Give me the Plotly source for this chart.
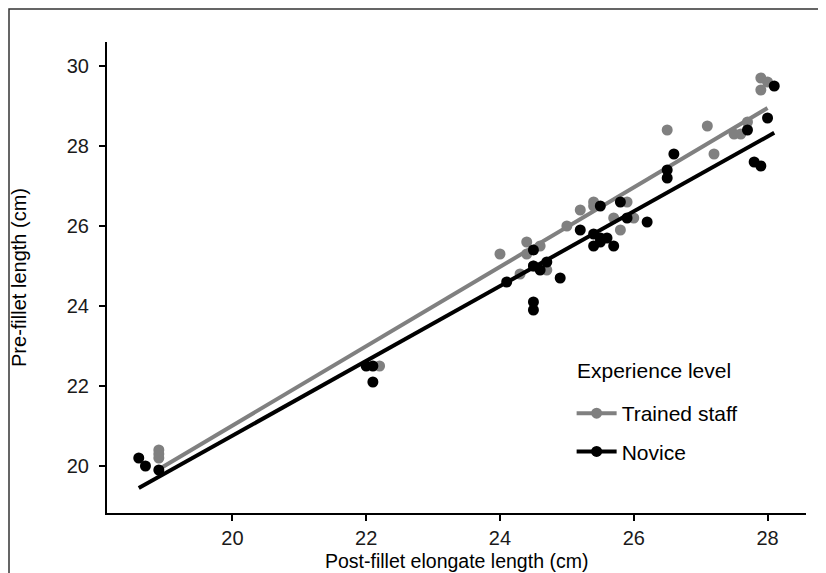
import numpy as np
import plotly.graph_objects as go

# Trained staff (grey)
trained_x = [18.9, 18.9, 18.9, 22.2, 24.0, 24.4, 24.4, 24.6, 24.3, 24.7, 24.5,
             25.0, 25.2, 25.4, 25.4, 25.7, 25.8, 25.9, 26.0, 26.5, 27.1, 27.2,
             27.5, 27.6, 27.7, 27.9, 28.0, 27.9]
trained_y = [20.4, 20.3, 20.2, 22.5, 25.3, 25.6, 25.3, 25.5, 24.8, 24.9, 25.0,
             26.0, 26.4, 26.6, 26.5, 26.2, 25.9, 26.6, 26.2, 28.4, 28.5, 27.8,
             28.3, 28.3, 28.6, 29.7, 29.6, 29.4]

# Novice (black)
novice_x = [18.6, 18.7, 18.9, 22.0, 22.1, 22.1, 24.1, 24.5, 24.5, 24.6, 24.7,
            24.9, 24.5, 24.5, 25.2, 25.4, 25.4, 25.5, 25.5, 25.6, 25.7, 25.8,
            25.9, 26.2, 25.5, 26.5, 26.5, 26.6, 27.7, 27.8, 27.9, 28.0, 28.1]
novice_y = [20.2, 20.0, 19.9, 22.5, 22.5, 22.1, 24.6, 25.4, 25.0, 24.9, 25.1,
            24.7, 24.1, 23.9, 25.9, 25.8, 25.5, 26.5, 25.7, 25.7, 25.5, 26.6,
            26.2, 26.1, 25.6, 27.4, 27.2, 27.8, 28.4, 27.6, 27.5, 28.7, 29.5]

group_names = ["Trained staff", "Novice"]
group_colors = ["#808080", "#000000"]

x_ticks = [20, 22, 24, 26, 28]
y_ticks = [20, 22, 24, 26, 28, 30]

fig = go.Figure()

groups = [(trained_x, trained_y), (novice_x, novice_y)]
for (gx, gy), name, col in zip(groups, group_names, group_colors):
    fig.add_trace(go.Scatter(x=gx, y=gy, mode="markers",
                             marker=dict(color=col, size=11, line=dict(width=0)),
                             showlegend=False, hoverinfo="x+y"))
    ax = np.array(gx)
    ay = np.array(gy)
    slope, intercept = np.polyfit(ax, ay, 1)
    lx = np.array([ax.min(), ax.max()])
    fig.add_trace(go.Scatter(x=lx, y=intercept + slope * lx, mode="lines",
                             line=dict(color=col, width=4),
                             showlegend=False, hoverinfo="skip"))

for name, col in zip(group_names, group_colors):
    fig.add_trace(go.Scatter(x=[None], y=[None], mode="lines+markers", name=name,
                             legendgroup=name,
                             line=dict(color=col, width=4),
                             marker=dict(color=col, size=11)))

axis_common = dict(showgrid=False, zeroline=False, showline=True,
                   linecolor="black", linewidth=2, ticks="outside",
                   ticklen=6, tickwidth=1.5, tickcolor="black",
                   tickfont=dict(size=20, color="#1a1a1a"),
                   automargin=False, mirror=False)

fig.update_layout(
    width=818, height=565,
    paper_bgcolor="white", plot_bgcolor="white",
    font=dict(family="Liberation Sans, Arial, sans-serif", color="black"),
    margin=dict(l=99, r=20, t=34, b=60),
    xaxis=dict(range=[18.125, 28.575], tickvals=x_ticks, **axis_common),
    yaxis=dict(range=[18.825, 30.6], tickvals=y_ticks, ticklabelstandoff=6,
               title=dict(text="Pre-fillet length (cm)",
                          font=dict(size=20), standoff=38),
               **axis_common),
    legend=dict(x=0.6647, y=0.2548, xanchor="left", yanchor="top",
                font=dict(size=21), bgcolor="rgba(0,0,0,0)",
                tracegroupgap=8, itemwidth=40),
    annotations=[
        dict(text="Experience level", xref="paper", yref="paper",
             x=0.6695, y=0.3036, xanchor="left", yanchor="middle",
             showarrow=False, font=dict(size=21, color="black")),
        dict(text="Post-fillet elongate length (cm)", xref="paper", yref="paper",
             x=0.5, y=-0.1019, xanchor="center", yanchor="middle",
             showarrow=False, font=dict(size=19.5, color="black")),
    ],
    shapes=[dict(type="rect", xref="paper", yref="paper",
                 x0=(1 - 99) / 699, x1=(817 - 99) / 699,
                 y0=-0.2, y1=(505 - 1) / 471,
                 line=dict(color="#333333", width=1.5), layer="below")],
)

fig.write_html("out.html")
